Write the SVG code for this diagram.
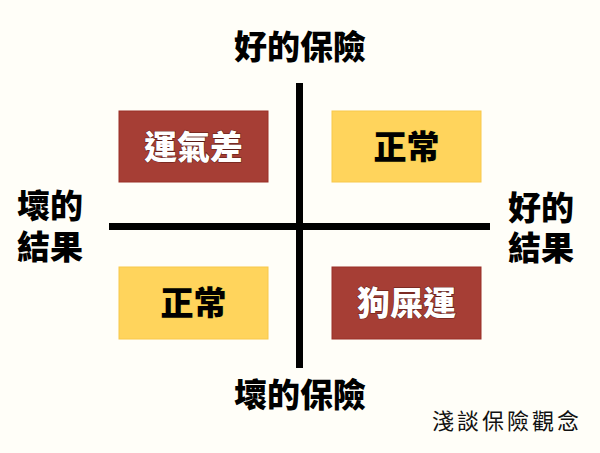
<svg xmlns="http://www.w3.org/2000/svg" width="600" height="453" viewBox="0 0 600 453">
<style>
.t{font-family:"Noto Sans CJK TC","Noto Sans CJK SC",sans-serif;font-weight:900;text-anchor:middle}
.lbl{font-size:33px;fill:#000}
.box-red{fill:#A63E35;stroke:#9A2E26;stroke-width:1}
.box-yel{fill:#FFD45C;stroke:#F8C84A;stroke-width:1}
.wt{font-size:33px;fill:#fff;stroke:#5a1a14;stroke-width:1;paint-order:stroke}
.bt{font-size:33px;fill:#000;stroke:#f2d24a;stroke-width:1;paint-order:stroke}
.axis{stroke:#000;stroke-width:7}
.note{font-family:"Noto Sans CJK TC","Noto Sans CJK SC",sans-serif;font-weight:400;font-size:22px;fill:#111;letter-spacing:3px}
</style>
<rect width="600" height="453" fill="#FFFEF8"/>
<g id="connectors">
<line class="axis" x1="299.5" y1="83" x2="299.5" y2="368"/>
<line class="axis" x1="109" y1="226.5" x2="490" y2="226.5"/>
</g>
<g id="top-label"><text class="t lbl" x="300" y="59">好的保險</text></g>
<g id="bottom-label"><text class="t lbl" x="300" y="407">壞的保險</text></g>
<g id="left-label"><text class="t lbl" x="50" y="218">壞的</text><text class="t lbl" x="50" y="259">結果</text></g>
<g id="right-label"><text class="t lbl" x="541" y="220">好的</text><text class="t lbl" x="541" y="260">結果</text></g>
<g id="q-top-left"><rect class="box-red" x="119" y="111" width="149" height="71"/><text class="t wt" x="193.5" y="158.5">運氣差</text></g>
<g id="q-top-right"><rect class="box-yel" x="332" y="111" width="149" height="71"/><text class="t bt" x="406.5" y="158.5">正常</text></g>
<g id="q-bottom-left"><rect class="box-yel" x="119" y="267" width="149" height="72"/><text class="t bt" x="193.5" y="315">正常</text></g>
<g id="q-bottom-right"><rect class="box-red" x="332" y="267" width="149" height="72"/><text class="t wt" x="406.5" y="315">狗屎運</text></g>
<g id="note"><text class="note" x="432" y="429">淺談保險觀念</text></g>
</svg>
